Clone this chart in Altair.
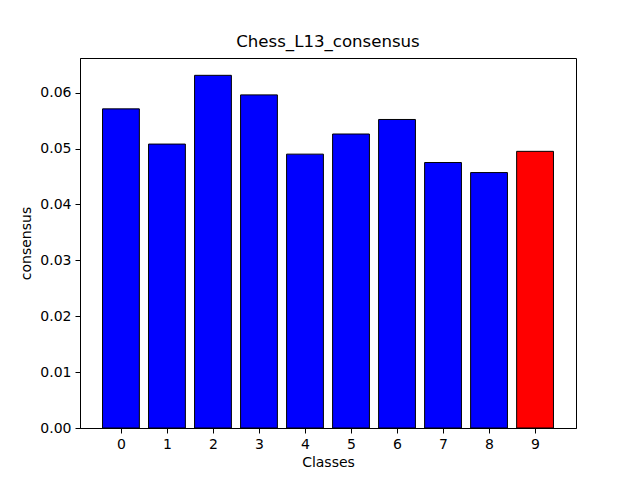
import altair as alt
import pandas as pd

classes = [0, 1, 2, 3, 4, 5, 6, 7, 8, 9]
consensus = [0.0571, 0.0508, 0.0631, 0.0596, 0.0490, 0.0526, 0.0552, 0.0475, 0.0457, 0.0495]
colors = ["#0000ff"] * 9 + ["#ff0000"]

df = pd.DataFrame({"cls": classes, "val": consensus, "color": colors})
df["x0"] = df["cls"] - 0.4
df["x1"] = df["cls"] + 0.4
df["zero"] = 0.0

font = "DejaVu Sans"

bars = alt.Chart(df).mark_bar(stroke="black", strokeWidth=1).encode(
    x=alt.X("x0:Q", scale=alt.Scale(domain=[-0.89, 9.89], nice=False, zero=False, padding=0),
            axis=alt.Axis(values=classes, format="d", title="Classes", grid=False,
                          tickSize=5, labelPadding=4, titlePadding=4,
                          labelFontSize=14, titleFontSize=14, labelFont=font, titleFont=font,
                          titleFontWeight="normal", labelColor="black", titleColor="black",
                          domainColor="black", tickColor="black", labelFlush=False)),
    x2="x1:Q",
    y=alt.Y("val:Q", scale=alt.Scale(domain=[0, 0.0662], nice=False, padding=0),
            axis=alt.Axis(values=[0, 0.01, 0.02, 0.03, 0.04, 0.05, 0.06], format=".2f",
                          title="consensus", grid=False, tickSize=5, labelPadding=4,
                          titlePadding=6, labelFontSize=14, titleFontSize=14,
                          labelFont=font, titleFont=font, titleFontWeight="normal",
                          labelColor="black", titleColor="black", domainColor="black",
                          tickColor="black", labelFlush=False)),
    y2="zero:Q",
    color=alt.Color("color:N", scale=None),
)

chart = bars.properties(
    width=496, height=370,
    title=alt.TitleParams("Chess_L13_consensus", font=font, fontSize=16.6,
                          fontWeight="normal", color="black", offset=7),
    autosize=alt.AutoSizeParams(type="none"),
    padding={"left": 72, "top": 50, "right": 56, "bottom": 44},
).configure_view(stroke="black", strokeWidth=1)

chart.save("out.html", embed_options={"renderer": "svg", "actions": False})
